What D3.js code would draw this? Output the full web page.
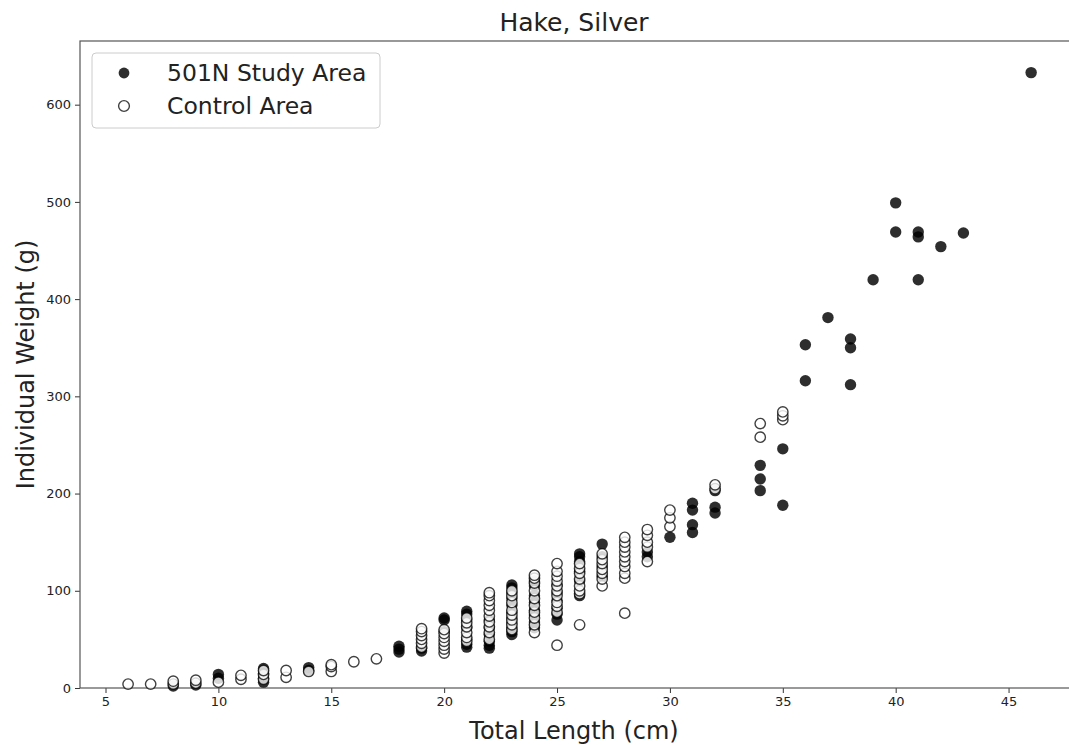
<!DOCTYPE html>
<html>
<head>
<meta charset="utf-8">
<script src="https://cdn.jsdelivr.net/npm/d3@7"></script>
<style>
  body { margin: 0; background: #fff; overflow: hidden; }
  svg text { font-family: "DejaVu Sans", sans-serif; fill: #222; }
</style>
</head>
<body>
<svg id="chart" width="1069" height="745"></svg>
<script>
// weights (g) grouped by total length (cm)
const studyPoints = [
    [8, [2]], [9, [3]], [10, [10, 14]], [12, [6, 10, 15, 20]], [14, [18, 21]],
    [18, [37, 40, 43]], [19, [38, 41]], [20, [58, 70, 72]],
    [21, [42, 45, 50, 62, 70, 76, 79]], [22, [41, 44, 48, 55, 62, 70]],
    [23, [55, 58, 62, 67, 72, 78, 85, 92, 98, 103, 106]],
    [24, [62, 68, 75, 80, 88, 95, 105, 110]], [25, [70, 76, 82, 90, 98, 106]],
    [26, [95, 110, 120, 130, 135, 138]], [27, [115, 125, 135, 148]],
    [29, [135, 140]], [30, [155]], [31, [160, 168, 183, 190]], [32, [180, 186, 203]],
    [34, [203, 215, 229]], [35, [188, 246]], [36, [316, 353]], [37, [381]],
    [38, [312, 350, 359]], [39, [420]], [40, [469, 499]], [41, [420, 464, 469]],
    [42, [454]], [43, [468]], [46, [633]]
];

const controlPoints = [
    [6, [4]], [7, [4]], [8, [4, 7]], [9, [5, 8]], [10, [6]], [11, [9, 13]],
    [12, [9, 14, 18]], [13, [11, 18]], [14, [17]], [15, [17, 22, 24]], [16, [27]], [17, [30]],
    [19, [42, 46, 50, 54, 58, 61]], [20, [36, 40, 44, 48, 52, 56, 60]],
    [21, [48, 52, 57, 63, 67, 72]], [22, [50, 57, 63, 68, 74, 80, 85, 90, 95, 98]],
    [23, [60, 65, 70, 75, 80, 88, 95, 100]],
    [24, [57, 65, 72, 78, 85, 92, 100, 108, 113, 116]],
    [25, [44, 78, 84, 88, 95, 100, 105, 110, 115, 120, 128]],
    [26, [65, 97, 100, 105, 112, 118, 123, 128]],
    [27, [105, 112, 118, 122, 128, 132, 138]],
    [28, [77, 113, 118, 125, 130, 135, 140, 145, 150, 155]],
    [29, [130, 145, 150, 157, 163]], [30, [166, 175, 183]], [32, [205, 209]],
    [34, [258, 272]], [35, [276, 280, 284]]
];

const xTicks = [5, 10, 15, 20, 25, 30, 35, 40, 45];
const yTicks = [0, 100, 200, 300, 400, 500, 600];
const seriesNames = ["501N Study Area", "Control Area"];

const svg = d3.select("#chart");
// the right spine sits just past the picture's edge
const plotL = 80, plotR = 1072, plotT = 41, plotB = 688;

const x = d3.scaleLinear().domain([3.87, 47.81]).range([plotL, plotR]);
const y = d3.scaleLinear().domain([0, 665.5]).range([plotB, plotT]);

const flatten = (pts) => pts.flatMap(([len, ws]) => ws.map((w) => ({len, w})));

// axes
const xAxis = svg.append("g")
    .attr("transform", `translate(0,${plotB})`)
    .call(d3.axisBottom(x).tickValues(xTicks).tickSize(5).tickPadding(4));
const yAxis = svg.append("g")
    .attr("transform", `translate(${plotL},0)`)
    .call(d3.axisLeft(y).tickValues(yTicks).tickSize(5).tickPadding(4));

[xAxis, yAxis].forEach((g) => {
    g.select(".domain").remove();
    g.selectAll("line").attr("stroke", "#333");
    g.selectAll("text").attr("font-size", 13).attr("fill", "#222")
        .style("font-family", "DejaVu Sans, sans-serif");
});

// frame
svg.append("rect")
    .attr("x", plotL).attr("y", plotT)
    .attr("width", plotR - plotL).attr("height", plotB - plotT)
    .attr("fill", "none").attr("stroke", "#555").attr("stroke-width", 1.2);

// points
svg.append("g").selectAll("circle")
    .data(flatten(studyPoints))
    .join("circle")
    .attr("cx", (d) => x(d.len))
    .attr("cy", (d) => y(d.w))
    .attr("r", 5.7)
    .attr("fill", "#000")
    .attr("fill-opacity", 0.82);

svg.append("g").selectAll("circle")
    .data(flatten(controlPoints))
    .join("circle")
    .attr("cx", (d) => x(d.len))
    .attr("cy", (d) => y(d.w))
    .attr("r", 5.2)
    .attr("fill", "#fff")
    .attr("fill-opacity", 0.8)
    .attr("stroke", "#000")
    .attr("stroke-opacity", 0.75)
    .attr("stroke-width", 1.4);

// titles
svg.append("text")
    .attr("x", (plotL + 1068) / 2).attr("y", 31)
    .attr("text-anchor", "middle").attr("font-size", 25)
    .text("Hake, Silver");

svg.append("text")
    .attr("x", (plotL + 1068) / 2).attr("y", 739)
    .attr("text-anchor", "middle").attr("font-size", 24)
    .text("Total Length (cm)");

svg.append("text")
    .attr("transform", `translate(34,${(plotT + plotB) / 2}) rotate(-90)`)
    .attr("text-anchor", "middle").attr("font-size", 24)
    .text("Individual Weight (g)");

// legend
const legend = svg.append("g");
legend.append("rect")
    .attr("x", 92).attr("y", 53).attr("width", 288).attr("height", 75)
    .attr("rx", 4).attr("fill", "#fff").attr("fill-opacity", 0.85)
    .attr("stroke", "#ccc");

seriesNames.forEach((name, i) => {
    const ly = 73 + i * 33;
    const c = legend.append("circle").attr("cx", 124).attr("cy", ly).attr("r", 5.4);
    if (i === 0) {
        c.attr("fill", "#000").attr("fill-opacity", 0.82);
    } else {
        c.attr("fill", "#fff").attr("stroke", "#000")
            .attr("stroke-opacity", 0.75).attr("stroke-width", 1.4);
    }
    legend.append("text")
        .attr("x", 167).attr("y", ly + 8)
        .attr("font-size", 23.5)
        .text(name);
});
</script>
</body>
</html>
